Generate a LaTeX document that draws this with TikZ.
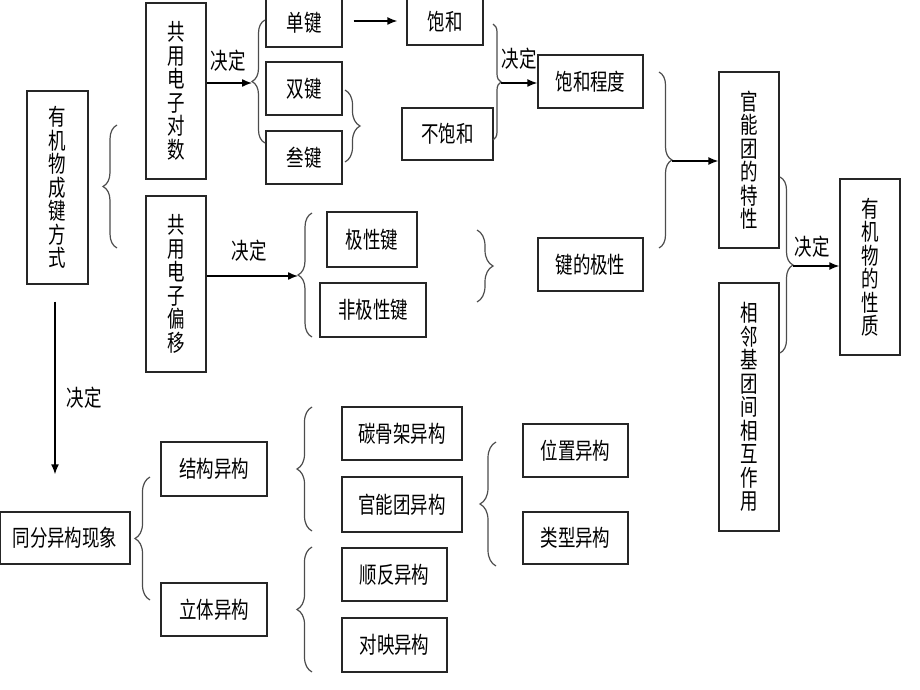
\documentclass[tikz,border=0pt]{standalone}
\usepackage{fontspec}
\newfontfamily\cjk[FakeStretch=0.76]{Noto Sans CJK SC}
\usetikzlibrary{arrows.meta,decorations.pathreplacing,calc}
\tikzset{
  box/.style={draw=black!85, line width=1.4pt, inner sep=0pt, align=center, font=\cjk\fontsize{23}{23.5}\selectfont},
  lbl/.style={inner sep=0pt, font=\cjk\fontsize{23}{23.5}\selectfont},
  arr/.style={line width=1.4pt, -{Latex[length=10pt,width=8pt]}},
  brc/.style={draw=black!70, line width=1.2pt, decorate, decoration={brace, amplitude=#1}},
}
\newcommand{\bx}[6]{\node[box, minimum width=#4, minimum height=#5] (#1) at (#2,#3) {#6};}
\begin{document}
\begin{tikzpicture}[x=1pt,y=-1pt]
\useasboundingbox (0,0) rectangle (920,690);
% boxes
\bx{youji}{57.5}{187.5}{61}{193}{有\\机\\物\\成\\键\\方\\式}
\bx{gy1}{176}{91}{60}{176}{共\\用\\电\\子\\对\\数}
\bx{dan}{304}{23}{76}{48}{单键}
\bx{shuang}{304}{88.5}{76}{53}{双键}
\bx{san}{304}{157.5}{76}{53}{叁键}
\bx{baohe}{445}{22}{76}{46}{饱和}
\bx{bubaohe}{447.5}{134}{91}{52}{不饱和}
\bx{bhcd}{590.5}{81.5}{105}{53}{饱和程度}
\bx{gnt}{749}{160}{60}{176}{官\\能\\团\\的\\特\\性}
\bx{xl}{749}{407}{60}{248}{相\\邻\\基\\团\\间\\相\\互\\作\\用}
\bx{xz}{870}{267}{60}{176}{有\\机\\物\\的\\性\\质}
\bx{gy2}{176}{284}{60}{176}{共\\用\\电\\子\\偏\\移}
\bx{jxj}{372}{239.5}{90}{55}{极性键}
\bx{fjx}{373}{310}{106}{54}{非极性键}
\bx{jdjx}{590.5}{264.5}{105}{53}{键的极性}
\bx{tf}{65}{538}{130}{52}{同分异构现象}
\bx{jg}{214}{469}{106}{54}{结构异构}
\bx{lt}{214}{609.5}{106}{53}{立体异构}
\bx{tgj}{402}{433.5}{120}{53}{碳骨架异构}
\bx{gnty}{402}{504.5}{120}{55}{官能团异构}
\bx{sf}{394.5}{574.5}{105}{53}{顺反异构}
\bx{dy}{394.5}{645}{105}{54}{对映异构}
\bx{wz}{575.5}{450.5}{105}{53}{位置异构}
\bx{lx}{575.5}{538}{105}{52}{类型异构}
% braces
\draw[brc=14] (117,248) -- (117,125);
\draw[brc=13] (265,143) -- (265,20);
\draw[brc=15] (345,90) -- (345,162);
\draw[brc=8] (493,24) -- (493,140);
\draw[brc=13] (659,72) -- (659,248);
\draw[brc=13] (780,177) -- (780,353);
\draw[brc=14] (312,337) -- (312,213);
\draw[brc=16] (477,230) -- (477,302);
\draw[brc=15] (150,600) -- (150,477);
\draw[brc=15] (312,531) -- (312,407);
\draw[brc=15] (312,672) -- (312,547);
\draw[brc=16] (496,566) -- (496,442);
% brace tips
\coordinate (t2) at (252,83);
\coordinate (t4) at (501,83);
\coordinate (t5) at (672,161);
\coordinate (t6) at (793,266);
\coordinate (t7) at (298,276);
% arrows
\draw[arr] (gy1.east |- t2) -- (t2);
\draw[arr, shorten <=11pt, shorten >=9pt] (dan.east |- 0,21) -- (baohe.west |- 0,21);
\draw[arr] (t4) -- (t4 -| bhcd.west);
\draw[arr] (t5) -- (t5 -| gnt.west);
\draw[arr] (t6) -- (t6 -| xz.west);
\draw[arr] (gy2.east |- t7) -- (t7);
\draw[arr, shorten <=17pt, shorten >=37pt] (youji.south -| 55,0) -- (tf.north -| 55,0);
% labels
\node[lbl] (l1) at (228,61) {决定};
\node[lbl] (l2) at (519,59) {决定};
\node[lbl] (l3) at (812,247) {决定};
\node[lbl] (l4) at (249,251) {决定};
\node[lbl] (l5) at (84,398) {决定};
\end{tikzpicture}
\end{document}
